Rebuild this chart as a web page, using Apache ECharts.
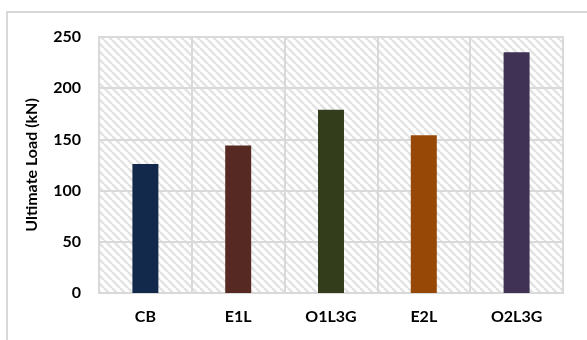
<!DOCTYPE html>
<html>
<head>
<meta charset="utf-8">
<script src="https://cdn.jsdelivr.net/npm/echarts@6/dist/echarts.min.js"></script>
<style>
  html, body { margin: 0; padding: 0; background: #fff; }
  #frame { position: absolute; left: 6px; top: 11px; width: 600px; height: 400px;
           border: 2px solid #d9d9d9; box-sizing: border-box; }
  #chart { position: absolute; left: 0; top: 0; width: 587px; height: 340px; }
</style>
</head>
<body>
<div id="frame"></div>
<div id="chart"></div>
<script>
// Specimens and their measured ultimate loads
const categories = ['CB', 'E1L', 'O1L3G', 'E2L', 'O2L3G'];
const ultimateLoad = [126, 144, 179, 154, 235];
const barColors = ['#13294b', '#562a22', '#333d1b', '#974807', '#403254'];
const yTicks = [0, 50, 100, 150, 200, 250];

// Diagonal hatch used as the plot background
function hatchPattern() {
  const size = 8;
  const c = document.createElement('canvas');
  c.width = size; c.height = size;
  const g = c.getContext('2d');
  g.fillStyle = '#ffffff';
  g.fillRect(0, 0, size, size);
  g.strokeStyle = '#e3e3e3';
  g.lineWidth = 2.6;
  g.beginPath();
  for (let k = -1; k <= 1; k++) {
    g.moveTo(k * size, 0);
    g.lineTo(k * size + size, size);
  }
  g.stroke();
  return { image: c, repeat: 'repeat' };
}

const chart = echarts.init(document.getElementById('chart'), null, { renderer: 'canvas' });
const font = 'Lato, "Open Sans", sans-serif';

chart.setOption({
  animation: false,
  backgroundColor: 'transparent',
  grid: {
    left: 99, right: 24, top: 37, bottom: 47,
    show: true,
    backgroundColor: hatchPattern(),
    borderColor: '#d9d9d9', borderWidth: 2
  },
  xAxis: {
    type: 'category',
    data: categories,
    axisLine: { show: true, lineStyle: { color: '#d9d9d9', width: 2 } },
    axisTick: { show: false },
    splitLine: { show: true, interval: 0, lineStyle: { color: '#d9d9d9', width: 2 } },
    axisLabel: { color: '#000', fontFamily: font, fontWeight: 'bold', fontSize: 16, margin: 16 }
  },
  yAxis: {
    type: 'value',
    min: yTicks[0], max: yTicks[yTicks.length - 1], interval: 50,
    name: 'Ultimate Load (kN)',
    nameLocation: 'middle',
    nameGap: 59,
    nameTextStyle: { color: '#000', fontFamily: font, fontWeight: 'bold', fontSize: 16 },
    axisLine: { show: false },
    axisTick: { show: false },
    splitLine: { show: true, lineStyle: { color: '#d9d9d9', width: 2 } },
    axisLabel: { color: '#000', fontFamily: font, fontWeight: 'bold', fontSize: 16, margin: 18 }
  },
  series: [{
    type: 'bar',
    barWidth: '28%',
    data: ultimateLoad.map((v, i) => ({ value: v, itemStyle: { color: barColors[i] } }))
  }]
});
</script>
</body>
</html>
